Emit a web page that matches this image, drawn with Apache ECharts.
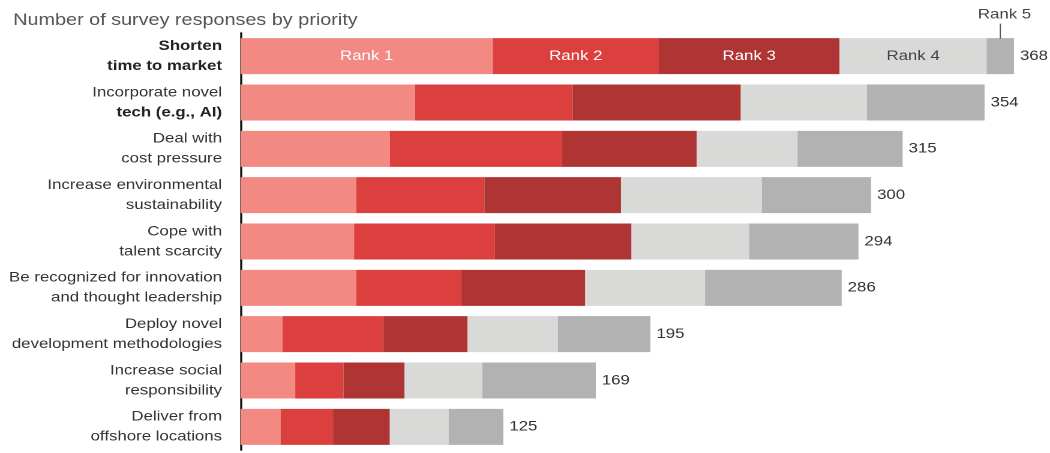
<!DOCTYPE html>
<html>
<head>
<meta charset="utf-8">
<script src="https://cdn.jsdelivr.net/npm/echarts@6/dist/echarts.min.js"></script>
<style>
  html, body { margin: 0; padding: 0; background: #fff; overflow: hidden; }
  /* The chart is laid out at 875px and stretched to 1050px wide, giving the wide lettering */
  #chart { width: 875px; height: 453px; transform: scaleX(1.2); transform-origin: 0 0; }
</style>
</head>
<body>
<div id="chart"></div>
<script>
// Priorities, top to bottom
const categories = [
  'Shorten\ntime to market',
  'Incorporate novel\ntech (e.g., AI)',
  'Deal with\ncost pressure',
  'Increase environmental\nsustainability',
  'Cope with\ntalent scarcity',
  'Be recognized for innovation\nand thought leadership',
  'Deploy novel\ndevelopment methodologies',
  'Increase social\nresponsibility',
  'Deliver from\noffshore locations'
];

// Responses per rank
const rank1 = [120, 83, 71, 55, 54, 55, 20, 26, 19];
const rank2 = [79, 75, 82, 61, 67, 50, 48, 23, 25];
const rank3 = [86, 80, 64, 65, 65, 59, 40, 29, 27];
const rank4 = [70, 60, 48, 67, 56, 57, 43, 37, 28];
const rank5 = [13, 56, 50, 52, 52, 65, 44, 54, 26];

// Total responses per priority
const totals = [368, 354, 315, 300, 294, 286, 195, 169, 125];

const rankNames = ['Rank 1', 'Rank 2', 'Rank 3', 'Rank 4', 'Rank 5'];
const rankData = [rank1, rank2, rank3, rank4, rank5];
const rankColors = ['#f28983', '#db403f', '#ae3533', '#d9d9d8', '#b1b2b1'];
const rankLabelColors = ['#ffffff', '#ffffff', '#ffffff', '#444444', '#444444'];

const FONT = '"Liberation Sans", Arial, Helvetica, sans-serif';

const chart = echarts.init(document.getElementById('chart'), null, {
  renderer: 'canvas',
  devicePixelRatio: 2
});

// Centre of the Rank 5 segment in the first bar, for the callout
const firstBarRank5Mid = rank1[0] + rank2[0] + rank3[0] + rank4[0] + rank5[0] / 2;

const series = rankNames.map((name, i) => {
  const s = {
    name: name,
    type: 'bar',
    stack: 'total',
    barWidth: 36,
    data: rankData[i],
    itemStyle: { color: rankColors[i] },
    emphasis: { disabled: true },
    label: {
      show: i < 4,
      position: 'inside',
      color: rankLabelColors[i],
      fontFamily: FONT,
      fontSize: 14,
      formatter: p => (p.dataIndex === 0 ? name : '')
    }
  };
  if (i === 4) {
    // Totals printed at the end of each bar
    s.label = {
      show: true,
      position: 'right',
      distance: 5,
      color: '#333333',
      fontFamily: FONT,
      fontSize: 14,
      formatter: p => String(totals[p.dataIndex])
    };
    // "Rank 5" callout above the first bar
    s.markPoint = {
      silent: true,
      symbol: 'rect',
      symbolSize: [1, 15],
      symbolOffset: [0, -25],
      itemStyle: { color: '#555555' },
      label: {
        show: true,
        position: 'top',
        distance: 2,
        offset: [3.5, 0],
        color: '#444444',
        fontFamily: FONT,
        fontSize: 14,
        formatter: 'Rank 5'
      },
      data: [{ coord: [firstBarRank5Mid, 0] }]
    };
  }
  return s;
});

chart.setOption({
  animation: false,
  backgroundColor: '#ffffff',
  title: {
    text: 'Number of survey responses by priority',
    left: 6,
    top: 7,
    textStyle: {
      fontFamily: FONT,
      fontSize: 16.5,
      fontWeight: 'normal',
      color: '#555555'
    }
  },
  grid: {
    left: 200.5,
    right: 9,
    top: 33,
    bottom: 3,
    containLabel: false
  },
  xAxis: {
    type: 'value',
    min: 0,
    max: 380,
    show: false
  },
  yAxis: {
    type: 'category',
    inverse: true,
    data: categories,
    axisLine: { show: true, lineStyle: { color: '#111111', width: 1.7 } },
    axisTick: { show: false },
    axisLabel: {
      margin: 15.5,
      align: 'right',
      fontFamily: FONT,
      formatter: (value, idx) => {
        const lines = value.split('\n');
        return lines.map((line, j) => {
          const bold = idx === 0 || (idx === 1 && j === 1);
          return '{' + (bold ? 'b' : 'n') + '|' + line + '}';
        }).join('\n');
      },
      rich: {
        n: { fontFamily: FONT, fontSize: 14, color: '#333333', lineHeight: 20, align: 'right' },
        b: { fontFamily: FONT, fontSize: 14, fontWeight: 'bold', color: '#222222', lineHeight: 20, align: 'right' }
      }
    }
  },
  series: series
});
</script>
</body>
</html>
